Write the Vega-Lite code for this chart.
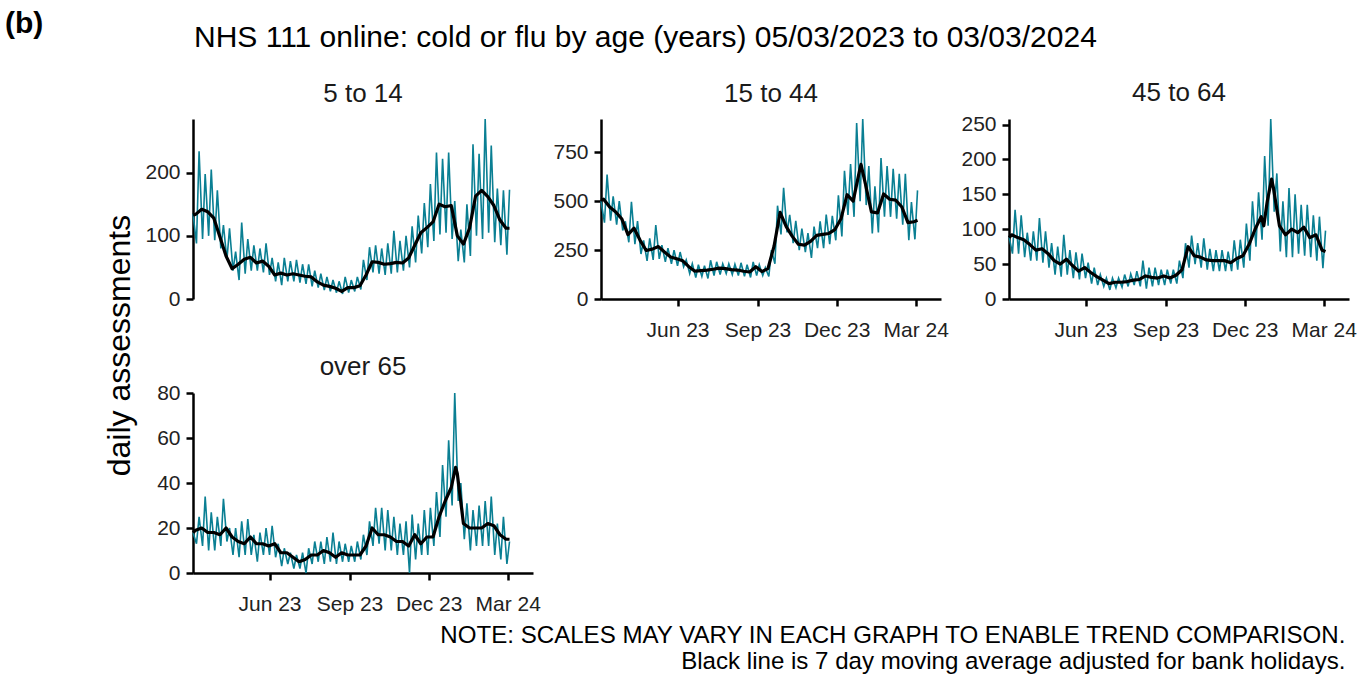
{
"$schema": "https://vega.github.io/schema/vega-lite/v6.json",
"padding": {"left": 5, "top": 8, "right": 6, "bottom": 0},
"background": "white",
"config": {
  "font": "Liberation Sans",
  "view": {"stroke": null},
  "axis": {"grid": false, "domainColor": "#000", "domainWidth": 2.5, "tickColor": "#000", "tickWidth": 2.5, "tickSize": 7, "labelFontSize": 21, "labelColor": "#222", "labelFont": "Liberation Sans"},
  "axisY": {"labelPadding": 6},
  "axisX": {"labelPadding": 13},
  "title": {"font": "Liberation Sans", "fontWeight": "normal", "color": "#000"}
},
"datasets": {
"p1d": [{"t":"2023-03-05","v":135},{"t":"2023-03-09","v":88},{"t":"2023-03-12","v":234},{"t":"2023-03-16","v":95},{"t":"2023-03-19","v":198},{"t":"2023-03-23","v":100},{"t":"2023-03-26","v":205},{"t":"2023-03-30","v":93},{"t":"2023-04-02","v":172},{"t":"2023-04-06","v":80},{"t":"2023-04-09","v":117},{"t":"2023-04-13","v":62},{"t":"2023-04-16","v":112},{"t":"2023-04-20","v":45},{"t":"2023-04-23","v":75},{"t":"2023-04-27","v":30},{"t":"2023-04-30","v":121},{"t":"2023-05-04","v":40},{"t":"2023-05-07","v":95},{"t":"2023-05-11","v":45},{"t":"2023-05-14","v":85},{"t":"2023-05-18","v":45},{"t":"2023-05-21","v":80},{"t":"2023-05-25","v":42},{"t":"2023-05-28","v":88},{"t":"2023-06-01","v":38},{"t":"2023-06-04","v":65},{"t":"2023-06-08","v":28},{"t":"2023-06-11","v":58},{"t":"2023-06-15","v":22},{"t":"2023-06-18","v":65},{"t":"2023-06-22","v":28},{"t":"2023-06-25","v":60},{"t":"2023-06-29","v":28},{"t":"2023-07-02","v":62},{"t":"2023-07-06","v":26},{"t":"2023-07-09","v":55},{"t":"2023-07-13","v":24},{"t":"2023-07-16","v":55},{"t":"2023-07-20","v":20},{"t":"2023-07-23","v":45},{"t":"2023-07-27","v":18},{"t":"2023-07-30","v":40},{"t":"2023-08-03","v":14},{"t":"2023-08-06","v":35},{"t":"2023-08-10","v":12},{"t":"2023-08-13","v":30},{"t":"2023-08-17","v":10},{"t":"2023-08-20","v":28},{"t":"2023-08-24","v":8},{"t":"2023-08-27","v":35},{"t":"2023-08-31","v":10},{"t":"2023-09-03","v":30},{"t":"2023-09-07","v":12},{"t":"2023-09-10","v":35},{"t":"2023-09-14","v":15},{"t":"2023-09-17","v":62},{"t":"2023-09-21","v":30},{"t":"2023-09-24","v":82},{"t":"2023-09-28","v":42},{"t":"2023-10-01","v":85},{"t":"2023-10-05","v":40},{"t":"2023-10-08","v":80},{"t":"2023-10-12","v":38},{"t":"2023-10-15","v":88},{"t":"2023-10-19","v":40},{"t":"2023-10-22","v":108},{"t":"2023-10-26","v":42},{"t":"2023-10-29","v":92},{"t":"2023-11-02","v":45},{"t":"2023-11-05","v":100},{"t":"2023-11-09","v":50},{"t":"2023-11-12","v":115},{"t":"2023-11-16","v":58},{"t":"2023-11-19","v":132},{"t":"2023-11-23","v":72},{"t":"2023-11-26","v":152},{"t":"2023-11-30","v":82},{"t":"2023-12-03","v":182},{"t":"2023-12-07","v":92},{"t":"2023-12-10","v":232},{"t":"2023-12-14","v":102},{"t":"2023-12-17","v":222},{"t":"2023-12-21","v":105},{"t":"2023-12-24","v":232},{"t":"2023-12-28","v":95},{"t":"2023-12-31","v":155},{"t":"2024-01-04","v":60},{"t":"2024-01-07","v":110},{"t":"2024-01-11","v":58},{"t":"2024-01-14","v":150},{"t":"2024-01-18","v":68},{"t":"2024-01-21","v":245},{"t":"2024-01-25","v":100},{"t":"2024-01-28","v":230},{"t":"2024-02-01","v":95},{"t":"2024-02-04","v":285},{"t":"2024-02-08","v":105},{"t":"2024-02-11","v":243},{"t":"2024-02-15","v":90},{"t":"2024-02-18","v":175},{"t":"2024-02-22","v":85},{"t":"2024-02-25","v":172},{"t":"2024-02-29","v":70},{"t":"2024-03-03","v":173}],
"p1m": [{"t":"2023-03-05","v":133},{"t":"2023-03-08","v":134},{"t":"2023-03-15","v":142},{"t":"2023-03-22","v":138},{"t":"2023-03-29","v":128},{"t":"2023-04-05","v":98},{"t":"2023-04-12","v":68},{"t":"2023-04-19","v":48},{"t":"2023-04-26","v":55},{"t":"2023-05-03","v":63},{"t":"2023-05-10","v":66},{"t":"2023-05-17","v":57},{"t":"2023-05-24","v":60},{"t":"2023-05-31","v":52},{"t":"2023-06-07","v":38},{"t":"2023-06-14","v":41},{"t":"2023-06-21","v":38},{"t":"2023-06-28","v":40},{"t":"2023-07-05","v":38},{"t":"2023-07-12","v":36},{"t":"2023-07-19","v":35},{"t":"2023-07-26","v":27},{"t":"2023-08-02","v":22},{"t":"2023-08-09","v":20},{"t":"2023-08-16","v":17},{"t":"2023-08-23","v":12},{"t":"2023-08-30","v":18},{"t":"2023-09-06","v":18},{"t":"2023-09-13","v":21},{"t":"2023-09-20","v":38},{"t":"2023-09-27","v":59},{"t":"2023-10-04","v":58},{"t":"2023-10-11","v":55},{"t":"2023-10-18","v":56},{"t":"2023-10-25","v":58},{"t":"2023-11-01","v":57},{"t":"2023-11-08","v":65},{"t":"2023-11-15","v":85},{"t":"2023-11-22","v":105},{"t":"2023-11-29","v":113},{"t":"2023-12-06","v":122},{"t":"2023-12-13","v":150},{"t":"2023-12-20","v":146},{"t":"2023-12-27","v":148},{"t":"2024-01-03","v":100},{"t":"2024-01-10","v":87},{"t":"2024-01-17","v":112},{"t":"2024-01-24","v":163},{"t":"2024-01-31","v":172},{"t":"2024-02-07","v":162},{"t":"2024-02-14","v":148},{"t":"2024-02-21","v":125},{"t":"2024-02-28","v":112},{"t":"2024-03-03","v":112}],
"p2d": [{"t":"2023-03-05","v":500},{"t":"2023-03-09","v":390},{"t":"2023-03-12","v":636},{"t":"2023-03-16","v":400},{"t":"2023-03-19","v":525},{"t":"2023-03-23","v":380},{"t":"2023-03-26","v":500},{"t":"2023-03-30","v":350},{"t":"2023-04-02","v":397},{"t":"2023-04-06","v":290},{"t":"2023-04-09","v":497},{"t":"2023-04-13","v":280},{"t":"2023-04-16","v":398},{"t":"2023-04-20","v":230},{"t":"2023-04-23","v":300},{"t":"2023-04-27","v":195},{"t":"2023-04-30","v":310},{"t":"2023-05-04","v":200},{"t":"2023-05-07","v":378},{"t":"2023-05-11","v":205},{"t":"2023-05-14","v":275},{"t":"2023-05-18","v":190},{"t":"2023-05-21","v":260},{"t":"2023-05-25","v":180},{"t":"2023-05-28","v":250},{"t":"2023-06-01","v":170},{"t":"2023-06-04","v":240},{"t":"2023-06-08","v":165},{"t":"2023-06-11","v":200},{"t":"2023-06-15","v":130},{"t":"2023-06-18","v":180},{"t":"2023-06-22","v":110},{"t":"2023-06-25","v":175},{"t":"2023-06-29","v":115},{"t":"2023-07-02","v":170},{"t":"2023-07-06","v":105},{"t":"2023-07-09","v":198},{"t":"2023-07-13","v":120},{"t":"2023-07-16","v":190},{"t":"2023-07-20","v":125},{"t":"2023-07-23","v":180},{"t":"2023-07-27","v":130},{"t":"2023-07-30","v":180},{"t":"2023-08-03","v":125},{"t":"2023-08-06","v":178},{"t":"2023-08-10","v":120},{"t":"2023-08-13","v":185},{"t":"2023-08-17","v":116},{"t":"2023-08-20","v":175},{"t":"2023-08-24","v":110},{"t":"2023-08-27","v":190},{"t":"2023-08-31","v":120},{"t":"2023-09-03","v":175},{"t":"2023-09-07","v":120},{"t":"2023-09-10","v":160},{"t":"2023-09-14","v":115},{"t":"2023-09-17","v":250},{"t":"2023-09-21","v":180},{"t":"2023-09-24","v":477},{"t":"2023-09-28","v":330},{"t":"2023-10-01","v":568},{"t":"2023-10-05","v":340},{"t":"2023-10-08","v":430},{"t":"2023-10-12","v":286},{"t":"2023-10-15","v":400},{"t":"2023-10-19","v":250},{"t":"2023-10-22","v":360},{"t":"2023-10-26","v":240},{"t":"2023-10-29","v":337},{"t":"2023-11-02","v":210},{"t":"2023-11-05","v":370},{"t":"2023-11-09","v":260},{"t":"2023-11-12","v":397},{"t":"2023-11-16","v":260},{"t":"2023-11-19","v":431},{"t":"2023-11-23","v":280},{"t":"2023-11-26","v":425},{"t":"2023-11-30","v":300},{"t":"2023-12-03","v":530},{"t":"2023-12-07","v":320},{"t":"2023-12-10","v":655},{"t":"2023-12-14","v":430},{"t":"2023-12-17","v":690},{"t":"2023-12-21","v":420},{"t":"2023-12-24","v":900},{"t":"2023-12-28","v":500},{"t":"2023-12-31","v":920},{"t":"2024-01-04","v":480},{"t":"2024-01-07","v":680},{"t":"2024-01-11","v":335},{"t":"2024-01-14","v":576},{"t":"2024-01-18","v":340},{"t":"2024-01-21","v":721},{"t":"2024-01-25","v":420},{"t":"2024-01-28","v":680},{"t":"2024-02-01","v":420},{"t":"2024-02-04","v":665},{"t":"2024-02-08","v":410},{"t":"2024-02-11","v":640},{"t":"2024-02-15","v":380},{"t":"2024-02-18","v":640},{"t":"2024-02-22","v":300},{"t":"2024-02-25","v":495},{"t":"2024-02-29","v":305},{"t":"2024-03-03","v":555}],
"p2m": [{"t":"2023-03-05","v":505},{"t":"2023-03-08","v":510},{"t":"2023-03-15","v":470},{"t":"2023-03-22","v":445},{"t":"2023-03-29","v":409},{"t":"2023-04-05","v":329},{"t":"2023-04-12","v":362},{"t":"2023-04-19","v":300},{"t":"2023-04-26","v":248},{"t":"2023-05-03","v":255},{"t":"2023-05-10","v":268},{"t":"2023-05-17","v":240},{"t":"2023-05-24","v":215},{"t":"2023-05-31","v":206},{"t":"2023-06-07","v":195},{"t":"2023-06-14","v":165},{"t":"2023-06-21","v":142},{"t":"2023-06-28","v":145},{"t":"2023-07-05","v":148},{"t":"2023-07-12","v":152},{"t":"2023-07-19","v":158},{"t":"2023-07-26","v":155},{"t":"2023-08-02","v":150},{"t":"2023-08-09","v":148},{"t":"2023-08-16","v":142},{"t":"2023-08-23","v":138},{"t":"2023-08-30","v":165},{"t":"2023-09-06","v":140},{"t":"2023-09-13","v":155},{"t":"2023-09-20","v":270},{"t":"2023-09-27","v":443},{"t":"2023-10-04","v":370},{"t":"2023-10-11","v":320},{"t":"2023-10-18","v":280},{"t":"2023-10-25","v":275},{"t":"2023-11-01","v":295},{"t":"2023-11-08","v":325},{"t":"2023-11-15","v":330},{"t":"2023-11-22","v":335},{"t":"2023-11-29","v":355},{"t":"2023-12-06","v":410},{"t":"2023-12-13","v":533},{"t":"2023-12-20","v":500},{"t":"2023-12-27","v":650},{"t":"2023-12-29","v":688},{"t":"2024-01-03","v":590},{"t":"2024-01-10","v":445},{"t":"2024-01-17","v":440},{"t":"2024-01-24","v":537},{"t":"2024-01-31","v":510},{"t":"2024-02-07","v":505},{"t":"2024-02-14","v":470},{"t":"2024-02-21","v":390},{"t":"2024-02-28","v":395},{"t":"2024-03-03","v":402}],
"p3d": [{"t":"2023-03-05","v":90},{"t":"2023-03-09","v":65},{"t":"2023-03-12","v":128},{"t":"2023-03-16","v":65},{"t":"2023-03-19","v":120},{"t":"2023-03-23","v":60},{"t":"2023-03-26","v":95},{"t":"2023-03-30","v":55},{"t":"2023-04-02","v":97},{"t":"2023-04-06","v":55},{"t":"2023-04-09","v":116},{"t":"2023-04-13","v":52},{"t":"2023-04-16","v":97},{"t":"2023-04-20","v":45},{"t":"2023-04-23","v":80},{"t":"2023-04-27","v":35},{"t":"2023-04-30","v":75},{"t":"2023-05-04","v":32},{"t":"2023-05-07","v":92},{"t":"2023-05-11","v":35},{"t":"2023-05-14","v":70},{"t":"2023-05-18","v":30},{"t":"2023-05-21","v":67},{"t":"2023-05-25","v":28},{"t":"2023-05-28","v":65},{"t":"2023-06-01","v":30},{"t":"2023-06-04","v":52},{"t":"2023-06-08","v":22},{"t":"2023-06-11","v":45},{"t":"2023-06-15","v":20},{"t":"2023-06-18","v":35},{"t":"2023-06-22","v":18},{"t":"2023-06-25","v":30},{"t":"2023-06-29","v":13},{"t":"2023-07-02","v":30},{"t":"2023-07-06","v":16},{"t":"2023-07-09","v":30},{"t":"2023-07-13","v":17},{"t":"2023-07-16","v":35},{"t":"2023-07-20","v":18},{"t":"2023-07-23","v":36},{"t":"2023-07-27","v":20},{"t":"2023-07-30","v":40},{"t":"2023-08-03","v":18},{"t":"2023-08-06","v":55},{"t":"2023-08-10","v":15},{"t":"2023-08-13","v":45},{"t":"2023-08-17","v":18},{"t":"2023-08-20","v":45},{"t":"2023-08-24","v":20},{"t":"2023-08-27","v":42},{"t":"2023-08-31","v":20},{"t":"2023-09-03","v":42},{"t":"2023-09-07","v":22},{"t":"2023-09-10","v":42},{"t":"2023-09-14","v":22},{"t":"2023-09-17","v":55},{"t":"2023-09-21","v":30},{"t":"2023-09-24","v":80},{"t":"2023-09-28","v":45},{"t":"2023-10-01","v":91},{"t":"2023-10-05","v":50},{"t":"2023-10-08","v":80},{"t":"2023-10-12","v":45},{"t":"2023-10-15","v":87},{"t":"2023-10-19","v":42},{"t":"2023-10-22","v":72},{"t":"2023-10-26","v":40},{"t":"2023-10-29","v":70},{"t":"2023-11-02","v":40},{"t":"2023-11-05","v":70},{"t":"2023-11-09","v":40},{"t":"2023-11-12","v":68},{"t":"2023-11-16","v":40},{"t":"2023-11-19","v":84},{"t":"2023-11-23","v":42},{"t":"2023-11-26","v":85},{"t":"2023-11-30","v":45},{"t":"2023-12-03","v":108},{"t":"2023-12-07","v":55},{"t":"2023-12-10","v":140},{"t":"2023-12-14","v":75},{"t":"2023-12-17","v":153},{"t":"2023-12-21","v":85},{"t":"2023-12-24","v":205},{"t":"2023-12-28","v":105},{"t":"2023-12-31","v":258},{"t":"2024-01-04","v":125},{"t":"2024-01-07","v":180},{"t":"2024-01-11","v":68},{"t":"2024-01-14","v":140},{"t":"2024-01-18","v":60},{"t":"2024-01-21","v":159},{"t":"2024-01-25","v":60},{"t":"2024-01-28","v":150},{"t":"2024-02-01","v":65},{"t":"2024-02-04","v":135},{"t":"2024-02-08","v":62},{"t":"2024-02-11","v":135},{"t":"2024-02-15","v":60},{"t":"2024-02-18","v":120},{"t":"2024-02-22","v":55},{"t":"2024-02-25","v":118},{"t":"2024-02-29","v":44},{"t":"2024-03-03","v":98}],
"p3m": [{"t":"2023-03-05","v":88},{"t":"2023-03-08","v":92},{"t":"2023-03-15","v":88},{"t":"2023-03-22","v":85},{"t":"2023-03-29","v":78},{"t":"2023-04-05","v":70},{"t":"2023-04-12","v":72},{"t":"2023-04-19","v":65},{"t":"2023-04-26","v":55},{"t":"2023-05-03","v":50},{"t":"2023-05-10","v":57},{"t":"2023-05-17","v":48},{"t":"2023-05-24","v":40},{"t":"2023-05-31","v":45},{"t":"2023-06-07","v":38},{"t":"2023-06-14","v":32},{"t":"2023-06-21","v":27},{"t":"2023-06-28","v":22},{"t":"2023-07-05","v":24},{"t":"2023-07-12","v":24},{"t":"2023-07-19","v":25},{"t":"2023-07-26","v":27},{"t":"2023-08-02","v":28},{"t":"2023-08-09","v":33},{"t":"2023-08-16","v":31},{"t":"2023-08-23","v":30},{"t":"2023-08-30","v":33},{"t":"2023-09-06","v":30},{"t":"2023-09-13","v":34},{"t":"2023-09-20","v":42},{"t":"2023-09-27","v":75},{"t":"2023-10-04","v":62},{"t":"2023-10-11","v":60},{"t":"2023-10-18","v":56},{"t":"2023-10-25","v":55},{"t":"2023-11-01","v":55},{"t":"2023-11-08","v":55},{"t":"2023-11-15","v":52},{"t":"2023-11-22","v":58},{"t":"2023-11-29","v":62},{"t":"2023-12-06","v":78},{"t":"2023-12-13","v":100},{"t":"2023-12-20","v":118},{"t":"2023-12-23","v":105},{"t":"2023-12-27","v":140},{"t":"2024-01-01","v":172},{"t":"2024-01-03","v":160},{"t":"2024-01-10","v":105},{"t":"2024-01-17","v":92},{"t":"2024-01-24","v":100},{"t":"2024-01-31","v":95},{"t":"2024-02-07","v":103},{"t":"2024-02-14","v":88},{"t":"2024-02-21","v":92},{"t":"2024-02-28","v":70},{"t":"2024-03-03","v":68}],
"p4d": [{"t":"2023-03-05","v":18},{"t":"2023-03-09","v":13},{"t":"2023-03-12","v":25},{"t":"2023-03-16","v":12},{"t":"2023-03-19","v":34},{"t":"2023-03-23","v":10},{"t":"2023-03-26","v":27},{"t":"2023-03-30","v":10},{"t":"2023-04-02","v":25},{"t":"2023-04-06","v":12},{"t":"2023-04-09","v":33},{"t":"2023-04-13","v":14},{"t":"2023-04-16","v":20},{"t":"2023-04-20","v":8},{"t":"2023-04-23","v":20},{"t":"2023-04-27","v":7},{"t":"2023-04-30","v":23},{"t":"2023-05-04","v":8},{"t":"2023-05-07","v":24},{"t":"2023-05-11","v":8},{"t":"2023-05-14","v":17},{"t":"2023-05-18","v":5},{"t":"2023-05-21","v":18},{"t":"2023-05-25","v":8},{"t":"2023-05-28","v":20},{"t":"2023-06-01","v":8},{"t":"2023-06-04","v":21},{"t":"2023-06-08","v":7},{"t":"2023-06-11","v":13},{"t":"2023-06-15","v":3},{"t":"2023-06-18","v":11},{"t":"2023-06-22","v":4},{"t":"2023-06-25","v":9},{"t":"2023-06-29","v":2},{"t":"2023-07-02","v":8},{"t":"2023-07-06","v":2},{"t":"2023-07-09","v":9},{"t":"2023-07-13","v":0},{"t":"2023-07-16","v":11},{"t":"2023-07-20","v":4},{"t":"2023-07-23","v":14},{"t":"2023-07-27","v":5},{"t":"2023-07-30","v":14},{"t":"2023-08-03","v":4},{"t":"2023-08-06","v":16},{"t":"2023-08-10","v":5},{"t":"2023-08-13","v":18},{"t":"2023-08-17","v":4},{"t":"2023-08-20","v":14},{"t":"2023-08-24","v":5},{"t":"2023-08-27","v":13},{"t":"2023-08-31","v":5},{"t":"2023-09-03","v":12},{"t":"2023-09-07","v":5},{"t":"2023-09-10","v":14},{"t":"2023-09-14","v":6},{"t":"2023-09-17","v":17},{"t":"2023-09-21","v":8},{"t":"2023-09-24","v":23},{"t":"2023-09-28","v":12},{"t":"2023-10-01","v":29},{"t":"2023-10-05","v":13},{"t":"2023-10-08","v":29},{"t":"2023-10-12","v":10},{"t":"2023-10-15","v":28},{"t":"2023-10-19","v":10},{"t":"2023-10-22","v":25},{"t":"2023-10-26","v":8},{"t":"2023-10-29","v":22},{"t":"2023-11-02","v":8},{"t":"2023-11-05","v":23},{"t":"2023-11-09","v":0},{"t":"2023-11-12","v":26},{"t":"2023-11-16","v":6},{"t":"2023-11-19","v":22},{"t":"2023-11-23","v":8},{"t":"2023-11-26","v":28},{"t":"2023-11-30","v":8},{"t":"2023-12-03","v":29},{"t":"2023-12-07","v":12},{"t":"2023-12-10","v":36},{"t":"2023-12-14","v":16},{"t":"2023-12-17","v":48},{"t":"2023-12-21","v":25},{"t":"2023-12-24","v":59},{"t":"2023-12-28","v":30},{"t":"2023-12-31","v":80},{"t":"2024-01-04","v":32},{"t":"2024-01-07","v":40},{"t":"2024-01-11","v":15},{"t":"2024-01-14","v":31},{"t":"2024-01-18","v":10},{"t":"2024-01-21","v":28},{"t":"2024-01-25","v":12},{"t":"2024-01-28","v":30},{"t":"2024-02-01","v":12},{"t":"2024-02-04","v":32},{"t":"2024-02-08","v":12},{"t":"2024-02-11","v":34},{"t":"2024-02-15","v":8},{"t":"2024-02-18","v":22},{"t":"2024-02-22","v":6},{"t":"2024-02-25","v":25},{"t":"2024-02-29","v":4},{"t":"2024-03-03","v":14}],
"p4m": [{"t":"2023-03-05","v":18},{"t":"2023-03-08","v":19},{"t":"2023-03-15","v":20},{"t":"2023-03-22","v":18},{"t":"2023-03-29","v":18},{"t":"2023-04-05","v":17},{"t":"2023-04-12","v":20},{"t":"2023-04-19","v":16},{"t":"2023-04-26","v":14},{"t":"2023-05-03","v":13},{"t":"2023-05-10","v":16},{"t":"2023-05-17","v":13},{"t":"2023-05-24","v":13},{"t":"2023-05-31","v":12},{"t":"2023-06-07","v":13},{"t":"2023-06-14","v":9},{"t":"2023-06-21","v":9},{"t":"2023-06-28","v":7},{"t":"2023-07-05","v":5},{"t":"2023-07-12","v":6},{"t":"2023-07-19","v":8},{"t":"2023-07-26","v":8},{"t":"2023-08-02","v":10},{"t":"2023-08-09","v":9},{"t":"2023-08-16","v":7},{"t":"2023-08-23","v":9},{"t":"2023-08-30","v":8},{"t":"2023-09-06","v":8},{"t":"2023-09-13","v":8},{"t":"2023-09-20","v":12},{"t":"2023-09-27","v":20},{"t":"2023-10-04","v":17},{"t":"2023-10-11","v":17},{"t":"2023-10-18","v":16},{"t":"2023-10-25","v":14},{"t":"2023-11-01","v":14},{"t":"2023-11-08","v":12},{"t":"2023-11-15","v":17},{"t":"2023-11-22","v":13},{"t":"2023-11-29","v":16},{"t":"2023-12-06","v":16},{"t":"2023-12-13","v":25},{"t":"2023-12-20","v":32},{"t":"2023-12-27","v":38},{"t":"2024-01-01","v":47},{"t":"2024-01-03","v":44},{"t":"2024-01-10","v":22},{"t":"2024-01-17","v":20},{"t":"2024-01-24","v":20},{"t":"2024-01-31","v":20},{"t":"2024-02-07","v":22},{"t":"2024-02-14","v":21},{"t":"2024-02-21","v":17},{"t":"2024-02-28","v":15},{"t":"2024-03-03","v":15}]
},
"title": {"text": "(b)", "anchor": "start", "fontSize": 30, "fontWeight": "bold", "baseline": "alphabetic", "offset": -40, "dx": -98},
"vconcat": [{
  "title": {"text": ["NOTE: SCALES MAY VARY IN EACH GRAPH TO ENABLE TREND COMPARISON.", "Black line is 7 day moving average adjusted for bank holidays."], "orient": "bottom", "anchor": "end", "align": "right", "fontSize": 24.1, "lineHeight": 25.5, "offset": 10, "dx": -11},
  "vconcat": [{
    "title": {"text": "NHS 111 online: cold or flu by age (years) 05/03/2023 to 03/03/2024", "anchor": "start", "fontSize": 30, "baseline": "alphabetic", "offset": 3, "dx": 91},
    "columns": 3,
    "bounds": "flush",
    "spacing": {"row": 94, "column": 68},
    "concat": [
      {
        "width": 340, "height": 180,
        "title": {"text": "5 to 14", "fontSize": 26, "color": "#1a1a1a", "anchor": "middle", "frame": "group", "baseline": "alphabetic", "offset": -12.5},
        "encoding": {
          "x": {"field": "t", "type": "temporal", "scale": {"type": "utc", "domain": [{"year": 2023, "month": 3, "date": 5, "utc": true}, {"year": 2024, "month": 3, "date": 30, "utc": true}]}, "axis": null},
          "y": {"field": "v", "type": "quantitative", "scale": {"domain": [0, 285], "nice": false}, "axis": {"values": [0, 100, 200], "title": "daily assessments", "titleFontSize": 32, "titleFontWeight": "normal", "titleColor": "#000", "titleAngle": 270, "titleBaseline": "alphabetic", "titleAlign": "center", "titleX": -64, "titleY": 226}}
        },
        "layer": [
          {"data": {"name": "p1d"}, "mark": {"type": "line", "color": "#0a7f93", "strokeWidth": 1.6}},
          {"data": {"name": "p1m"}, "mark": {"type": "line", "color": "#000000", "strokeWidth": 3.2, "strokeJoin": "round"}}
        ]
      },
      {
        "width": 340, "height": 180,
        "title": {"text": "15 to 44", "fontSize": 26, "color": "#1a1a1a", "anchor": "middle", "frame": "group", "baseline": "alphabetic", "offset": -12.5},
        "encoding": {
          "x": {"field": "t", "type": "temporal", "scale": {"type": "utc", "domain": [{"year": 2023, "month": 3, "date": 5, "utc": true}, {"year": 2024, "month": 3, "date": 30, "utc": true}]}, "axis": {"title": null, "format": "%b %y", "labelFlush": false, "values": [{"year": 2023, "month": 6, "date": 1, "utc": true}, {"year": 2023, "month": 9, "date": 1, "utc": true}, {"year": 2023, "month": 12, "date": 1, "utc": true}, {"year": 2024, "month": 3, "date": 1, "utc": true}]}},
          "y": {"field": "v", "type": "quantitative", "scale": {"domain": [0, 920], "nice": false}, "axis": {"values": [0, 250, 500, 750], "title": null}}
        },
        "layer": [
          {"data": {"name": "p2d"}, "mark": {"type": "line", "color": "#0a7f93", "strokeWidth": 1.6}},
          {"data": {"name": "p2m"}, "mark": {"type": "line", "color": "#000000", "strokeWidth": 3.2, "strokeJoin": "round"}}
        ]
      },
      {
        "width": 340, "height": 180,
        "title": {"text": "45 to 64", "fontSize": 26, "color": "#1a1a1a", "anchor": "middle", "frame": "group", "baseline": "alphabetic", "offset": -13.4},
        "encoding": {
          "x": {"field": "t", "type": "temporal", "scale": {"type": "utc", "domain": [{"year": 2023, "month": 3, "date": 5, "utc": true}, {"year": 2024, "month": 3, "date": 30, "utc": true}]}, "axis": {"title": null, "format": "%b %y", "labelFlush": false, "values": [{"year": 2023, "month": 6, "date": 1, "utc": true}, {"year": 2023, "month": 9, "date": 1, "utc": true}, {"year": 2023, "month": 12, "date": 1, "utc": true}, {"year": 2024, "month": 3, "date": 1, "utc": true}]}},
          "y": {"field": "v", "type": "quantitative", "scale": {"domain": [0, 258], "nice": false}, "axis": {"values": [0, 50, 100, 150, 200, 250], "title": null}}
        },
        "layer": [
          {"data": {"name": "p3d"}, "mark": {"type": "line", "color": "#0a7f93", "strokeWidth": 1.6}},
          {"data": {"name": "p3m"}, "mark": {"type": "line", "color": "#000000", "strokeWidth": 3.2, "strokeJoin": "round"}}
        ]
      },
      {
        "width": 340, "height": 180,
        "title": {"text": "over 65", "fontSize": 26, "color": "#1a1a1a", "anchor": "middle", "frame": "group", "baseline": "alphabetic", "offset": -19.4},
        "encoding": {
          "x": {"field": "t", "type": "temporal", "scale": {"type": "utc", "domain": [{"year": 2023, "month": 3, "date": 5, "utc": true}, {"year": 2024, "month": 3, "date": 30, "utc": true}]}, "axis": {"title": null, "format": "%b %y", "labelFlush": false, "values": [{"year": 2023, "month": 6, "date": 1, "utc": true}, {"year": 2023, "month": 9, "date": 1, "utc": true}, {"year": 2023, "month": 12, "date": 1, "utc": true}, {"year": 2024, "month": 3, "date": 1, "utc": true}]}},
          "y": {"field": "v", "type": "quantitative", "scale": {"domain": [0, 80], "nice": false}, "axis": {"values": [0, 20, 40, 60, 80], "title": null}}
        },
        "layer": [
          {"data": {"name": "p4d"}, "mark": {"type": "line", "color": "#0a7f93", "strokeWidth": 1.6}},
          {"data": {"name": "p4m"}, "mark": {"type": "line", "color": "#000000", "strokeWidth": 3.2, "strokeJoin": "round"}}
        ]
      }
    ]
  }]
}]
}
